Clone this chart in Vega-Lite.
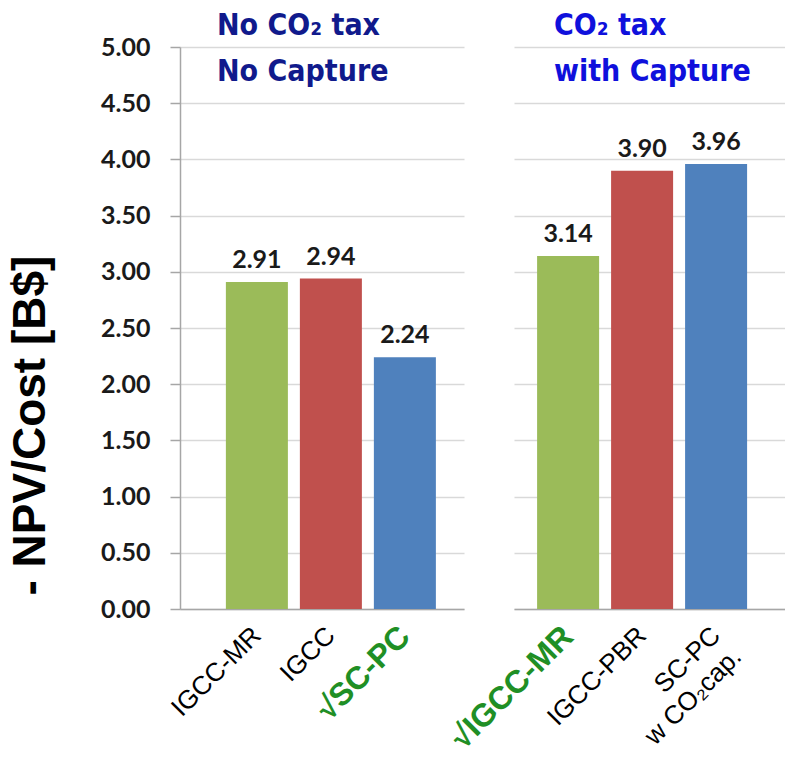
{
  "$schema": "https://vega.github.io/schema/vega-lite/v6.json",
  "background": "white",
  "padding": {"left": 7, "top": 11, "right": 0, "bottom": 0},
  "bounds": "flush",
  "spacing": 50,
  "config": {
    "view": {"stroke": null},
    "axisX": {
      "domain": true,
      "domainColor": "#a6a6a6",
      "domainWidth": 1.5,
      "ticks": false,
      "grid": false,
      "labelAngle": -45,
      "labelAlign": "right",
      "labelBaseline": "middle",
      "labelPadding": 22,
      "labelFont": "Liberation Sans",
      "labelFontSize": 26,
      "labelLimit": 400,
      "labelOverlap": false,
      "title": null
    },
    "axisY": {
      "grid": true,
      "gridColor": "#d9d9d9",
      "gridWidth": 1.5,
      "domainColor": "#a6a6a6",
      "domainWidth": 1.5,
      "tickColor": "#a6a6a6",
      "tickWidth": 1.5,
      "tickSize": 10,
      "labelFont": "Lato",
      "labelFontWeight": "bold",
      "labelFontSize": 25,
      "labelColor": "#1a1a1a",
      "labelPadding": 20,
      "labelFlush": false,
      "labelOverlap": false
    },
    "title": {
      "font": "DejaVu Sans Condensed",
      "fontWeight": "bold",
      "fontSize": 30,
      "anchor": "start",
      "frame": "group",
      "lineHeight": 46,
      "baseline": "alphabetic"
    }
  },
  "hconcat": [
    {
      "width": 284,
      "height": 562,
      "title": {
        "text": ["No CO₂ tax", "No Capture"],
        "color": "#101a8c",
        "dx": 37,
        "offset": -52
      },
      "data": {
        "values": [
          {"plant": "IGCC-MR", "cost": 2.91, "family": "MR"},
          {"plant": "IGCC", "cost": 2.94, "family": "IGCC"},
          {"plant": "√SC-PC", "cost": 2.24, "family": "PC"}
        ]
      },
      "encoding": {
        "x": {
          "field": "plant",
          "type": "nominal",
          "sort": null,
          "scale": {"paddingInner": 0.162, "paddingOuter": 0.5, "align": 0.62},
          "axis": {
            "labelColor": {"condition": {"test": "indexof(datum.value, '√') == 0", "value": "#1f8f25"}, "value": "#000000"},
            "labelFontWeight": {"condition": {"test": "indexof(datum.value, '√') == 0", "value": "bold"}, "value": "normal"},
            "labelFontSize": {"condition": {"test": "indexof(datum.value, '√') == 0", "value": 32}, "value": 26}
          }
        },
        "y": {
          "field": "cost",
          "type": "quantitative",
          "scale": {"domain": [0, 5]},
          "axis": {
            "values": [0, 0.5, 1, 1.5, 2, 2.5, 3, 3.5, 4, 4.5, 5],
            "format": ".2f",
            "title": "- NPV/Cost [B$]",
            "titleFont": "Liberation Sans",
            "titleFontWeight": "bold",
            "titleFontSize": 46,
            "titleColor": "#000000",
            "titleAnchor": "start",
            "titleY": 548,
            "titlePadding": 46
          }
        }
      },
      "layer": [
        {
          "mark": {"type": "bar"},
          "encoding": {
            "color": {
              "field": "family",
              "type": "nominal",
              "scale": {"domain": ["MR", "IGCC", "PC"], "range": ["#9bbb59", "#c0504d", "#4f81bd"]},
              "legend": null
            }
          }
        },
        {
          "mark": {"type": "text", "dy": -14, "baseline": "alphabetic", "font": "Lato", "fontWeight": "bold", "fontSize": 25, "color": "#1a1a1a"},
          "encoding": {"text": {"field": "cost", "type": "quantitative", "format": ".2f"}}
        }
      ]
    },
    {
      "width": 280,
      "height": 562,
      "title": {
        "text": ["CO₂ tax", "with Capture"],
        "color": "#0f10dc",
        "dx": 40,
        "offset": -40
      },
      "data": {
        "values": [
          {"plant": "√IGCC-MR", "cost": 3.14, "family": "MR"},
          {"plant": "IGCC-PBR", "cost": 3.9, "family": "IGCC"},
          {"plant": "SC-PC\nw CO₂cap.", "cost": 3.96, "family": "PC"}
        ]
      },
      "encoding": {
        "x": {
          "field": "plant",
          "type": "nominal",
          "sort": null,
          "scale": {"paddingInner": 0.162, "paddingOuter": 0.473, "align": 0.33},
          "axis": {
            "labelExpr": "split(datum.label, '\\n')",
            "labelLineHeight": 30,
            "labelColor": {"condition": {"test": "indexof(datum.value, '√') == 0", "value": "#1f8f25"}, "value": "#000000"},
            "labelFontWeight": {"condition": {"test": "indexof(datum.value, '√') == 0", "value": "bold"}, "value": "normal"},
            "labelFontSize": {"condition": {"test": "indexof(datum.value, '√') == 0", "value": 32}, "value": 26}
          }
        },
        "y": {
          "field": "cost",
          "type": "quantitative",
          "scale": {"domain": [0, 5]},
          "axis": {
            "values": [0, 0.5, 1, 1.5, 2, 2.5, 3, 3.5, 4, 4.5, 5],
            "labels": false,
            "ticks": false,
            "domain": false,
            "title": null
          }
        }
      },
      "layer": [
        {
          "mark": {"type": "bar"},
          "encoding": {
            "color": {
              "field": "family",
              "type": "nominal",
              "scale": {"domain": ["MR", "IGCC", "PC"], "range": ["#9bbb59", "#c0504d", "#4f81bd"]},
              "legend": null
            }
          }
        },
        {
          "mark": {"type": "text", "dy": -14, "baseline": "alphabetic", "font": "Lato", "fontWeight": "bold", "fontSize": 25, "color": "#1a1a1a"},
          "encoding": {"text": {"field": "cost", "type": "quantitative", "format": ".2f"}}
        }
      ]
    }
  ]
}
